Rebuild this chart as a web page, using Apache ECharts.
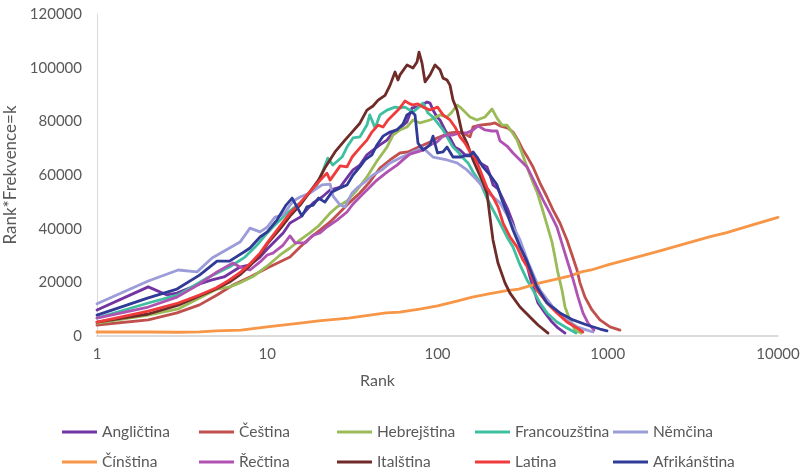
<!DOCTYPE html>
<html>
<head>
<meta charset="utf-8">
<script src="https://cdn.jsdelivr.net/npm/echarts/dist/echarts.min.js"></script>
<style>
  html, body { margin: 0; padding: 0; background: #ffffff; }
  #chart { width: 802px; height: 474px; }
</style>
</head>
<body>
<div id="chart"></div>
<script>
// Rank × frequency (k) against rank, log-scaled rank axis.
// Each list holds [rank, rank*frequency] pairs for one language.

const anglictina = [[1,9700],[2,18300],[2.58,15300],[2.95,16000],[4,19400],[4.74,20900],[5.57,22000],[6.92,25700],[7.92,26500],[9.07,29400],[10,32400],[12.4,38400],[13.6,42100],[15.6,44300],[18.6,49600],[21,51800],[23.4,54400],[26.8,55500],[29.4,58900],[31.9,61900],[35,63700],[38.5,67500],[41.8,69300],[45.9,71200],[50.5,73000],[54.8,76000],[60.2,77500],[66.2,79800],[70.8,85000],[75.8,85300],[81.1,86100],[86.8,87200],[90.4,86800],[94.1,84200],[99.3,81600],[103.4,80500],[110.7,76800],[118.4,73800],[126.7,70400],[135.6,69300],[145,67500],[155.2,67500],[166.1,66000],[177.7,64500],[195.3,63000],[203.3,60000],[211.8,56300],[226.6,54800],[239.3,51800],[259.5,47000],[277.6,42100],[297,35800],[326.6,29400],[349.3,22000],[389.3,12300],[428,8600],[470.6,5200],[510,3000],[561,1100]];

const cestina = [[1,4100],[2,6000],[2.95,8600],[4,11600],[5.07,15300],[6.29,19000],[7.92,22000],[10,25300],[13.6,29400],[15.6,33200],[17.8,36500],[20.4,39500],[23.4,42500],[26.8,46200],[30.6,49900],[35,53300],[40,57400],[45.9,62600],[52.6,65600],[60.2,68200],[67.1,68600],[75.8,70100],[90.4,72300],[99.3,73800],[118.4,75700],[130.2,76000],[141.2,75700],[155.2,74200],[161.7,77900],[177.7,78600],[203.3,79000],[217.7,79400],[232.8,78300],[259.5,77500],[277.6,76000],[297,73000],[317.9,69300],[340.1,66300],[364,63000],[400,57000],[439.8,51800],[476.6,47000],[524,42100],[576,35800],[617,30200],[660,24600],[687,19800],[735,14500],[808,9700],[900,6000],[1031,3400],[1180,2200]];

const hebrejstina = [[1,4800],[2,7800],[3,10100],[4,14200],[5.07,17500],[6,18300],[6.92,19800],[8.36,22400],[10,26100],[11.9,30200],[13.6,32800],[15.6,35800],[17.8,38400],[20,41000],[23.4,45800],[25.7,48100],[29.4,50300],[33.7,54400],[38.5,59300],[44.1,65200],[50.5,70400],[54.8,74900],[60.2,76800],[66.2,77900],[71.8,80500],[78.9,79400],[90.4,80500],[103.4,82400],[113.7,81600],[121.7,83500],[130.2,86100],[135.6,85300],[155.2,81600],[170.6,80500],[190.1,81600],[209,84600],[223.6,81200],[239.3,78600],[256,78600],[273.9,76000],[293,73000],[313.5,68200],[335.5,63000],[359,58100],[384,53700],[411,47700],[439.8,41400],[470.6,35000],[489.8,29400],[510,23500],[538.6,17100],[561,10800],[600,6000],[642,2200],[697,1100]];

const francouzstina = [[1,6700],[2,12300],[3,15300],[4.43,21600],[6,25700],[7.4,29400],[8.71,33900],[10,38400],[10.8,40600],[13.1,45800],[15.6,49600],[19.6,56300],[21,60700],[22.7,66300],[24.3,63700],[27.5,66700],[29.4,70400],[31.9,73800],[35,74200],[38.5,78600],[40,82400],[43,77500],[45.9,82400],[50.5,84200],[56.3,85300],[60.2,85000],[64.4,85300],[71.8,83500],[76.8,85000],[82.2,86800],[88,83100],[94.1,81600],[100,79400],[107.8,76800],[113.7,74200],[123.3,70400],[132,68600],[141.2,66300],[151.1,64500],[161.7,61100],[177.7,57400],[195.3,51400],[211.8,47000],[232.8,42100],[256,36900],[277.6,33200],[305.3,26500],[335.5,20900],[364,17100],[400,12300],[439.8,8600],[503,5200],[576,3000],[651,1100]];

const nemcina = [[1,12000],[2,20500],[3,24600],[3.87,23900],[4.74,29100],[6.92,35000],[7.92,40200],[9.07,38800],[10,40600],[11.1,44300],[12.4,45100],[14.2,50300],[15.6,51800],[17.8,53300],[21,56300],[23.4,56600],[24.3,52200],[26.8,48800],[28.6,48100],[31.5,53300],[33.7,55200],[37.5,57400],[41.8,60000],[47.2,61900],[52.6,64500],[60.2,66300],[71.8,68600],[82.2,70100],[94.1,66700],[113.7,65600],[130.2,64500],[149,61900],[170.6,58100],[195.3,53700],[232.8,49600],[266.6,43200],[305.3,35800],[340,27600],[400,17100],[476.6,10800],[576,6000],[660,3400],[755,2200],[819,1500]];

const cinstina = [[1,1500],[2,1500],[3,1400],[4,1500],[5,1900],[7,2200],[10,3400],[15.6,4800],[20,5600],[30,6700],[40,7800],[50,8600],[60,8900],[80,10100],[100,11200],[130,13000],[160,14500],[200,15700],[250,16800],[300,17500],[400,19800],[500,21200],[600,22400],[700,23900],[800,24600],[1000,26500],[1500,29500],[2000,31600],[3000,34800],[4000,37000],[5000,38500],[7000,41300],[10000,44200]];

const rectina = [[1,6700],[2,10800],[2.95,14500],[4,19400],[5.07,23900],[6.29,27200],[6.92,25700],[7.92,24600],[9.07,27600],[10,30200],[10.8,30900],[12.4,33900],[13.6,37300],[14.6,34700],[16.7,34700],[18.6,37600],[20.4,38400],[22.4,40600],[25.7,43200],[29.4,46200],[31.9,49200],[35,51800],[38.5,54400],[44.1,58100],[50.5,61100],[57.8,63700],[64.4,66300],[68.9,67800],[82.2,69300],[90.4,71200],[99.3,72300],[106.3,74200],[113.7,74900],[123.3,74900],[135.6,75700],[149,75700],[161.7,76800],[173,78300],[190.1,76800],[209,76400],[223.6,76400],[232.8,72700],[256,70800],[277.6,68200],[305.3,65600],[335.5,63000],[359,59300],[384,55500],[416.6,50700],[458,45800],[503,40600],[546,33200],[584,27200],[625,21200],[669,14500],[715,8600],[766,4800],[830,2200]];

const italstina = [[1,5200],[2,8200],[3,11500],[4,14900],[5,17500],[6,20100],[7,23100],[8,26500],[9.07,30200],[10,34300],[12,40200],[13.6,44700],[15.6,48800],[17.8,53700],[20,58100],[21.8,62600],[25,68600],[28.6,73000],[31.5,76000],[35,79300],[38.5,84200],[41.8,85700],[44.8,87900],[49.2,89700],[52.6,93400],[56.3,98400],[58.6,95400],[60.2,97300],[66.2,101000],[71.8,99900],[75.8,102100],[77.9,105800],[81.1,101700],[84.5,94700],[90.4,97300],[96.7,101000],[103.4,99200],[107.8,96100],[113.7,95400],[118.4,93500],[123.3,88000],[130.2,84200],[139.4,75700],[149,71900],[161.7,65600],[182.5,58100],[195.3,53300],[203.3,44400],[211.8,35800],[226.6,27200],[249.1,19800],[266.6,16000],[305.3,10800],[349.3,7100],[389.3,4100],[445.8,1100]];

const latina = [[1,5200],[2,9300],[3,12300],[4,15300],[5,17900],[6,20900],[7,23900],[8,27200],[9.07,30900],[10,34700],[11.4,39500],[13.6,45800],[15.6,49600],[17.1,52500],[20,57400],[22.4,60700],[23.4,58100],[26.8,63400],[29.4,63000],[31.5,66700],[35,70100],[38.5,73000],[41.2,76000],[44.7,78600],[47.9,77900],[51.2,80500],[56.3,83100],[60.2,85000],[64.4,87600],[68.9,86500],[71.8,86100],[76.8,86500],[82.2,85300],[90.4,84200],[100,85300],[107.8,82400],[118.4,80500],[126.7,77900],[135.6,74200],[145,71900],[155.2,68600],[166.1,66300],[177.7,61900],[195.3,55200],[211.8,51800],[226.6,48100],[242.6,42100],[266.6,36900],[293.1,33200],[317.9,28300],[340.1,25300],[384,17100],[439.8,12300],[503,8600],[576,5200],[660,3000],[715,1500]];

const afrikanstina = [[1,7800],[2,14200],[2.95,17500],[4,22700],[5.07,27900],[6,27900],[7.3,31300],[7.92,32800],[9.07,36900],[10,38800],[11.4,43200],[12.9,48800],[14,51400],[16,44700],[17.1,48100],[18.6,48800],[20,51400],[21.8,49900],[24,53700],[26.8,55200],[29.4,56300],[31.9,60000],[35,63000],[37.5,65600],[41.2,67500],[44.1,71200],[47.9,74500],[52.6,76000],[57.8,76800],[62.7,79000],[66.2,82400],[70.8,83500],[73.8,82400],[76.8,71900],[82.2,69300],[90.4,71200],[94.1,74500],[100,68200],[107.8,68600],[113.7,70400],[123.3,66700],[135.6,66700],[145,67100],[155.2,67100],[161.7,68600],[170.6,66700],[185,63000],[203.3,60000],[223.6,56300],[239.3,50700],[256,45800],[277.6,39500],[305.3,33200],[335.5,27900],[384,18300],[439.8,12300],[524,8600],[625,6000],[755,4100],[900,2600],[990,1900]];

const languages = ['Angličtina', 'Čeština', 'Hebrejština', 'Francouzština', 'Němčina',
                   'Čínština', 'Řečtina', 'Italština', 'Latina', 'Afrikánština'];
const languageData = [anglictina, cestina, hebrejstina, francouzstina, nemcina,
                      cinstina, rectina, italstina, latina, afrikanstina];
const lineColors = ['#7134a2', '#c0504d', '#9bbb59', '#3ebfa0', '#9c9cd9',
                    '#f79646', '#b052b2', '#6e2b28', '#f03a3b', '#2f3b97'];

const yTicks = { min: 0, max: 120000, step: 20000 };
const xRange = { min: 1, max: 10000 };

const FONT = 'Lato, "Open Sans", sans-serif';
const TEXT = '#595959';

// Legend laid out as two rows of five fixed columns.
const legendCols = [62, 199, 337, 475, 613];
const legendRows = [424, 454];
const legends = languages.map((name, i) => ({
  data: [name],
  left: legendCols[i % 5],
  top: legendRows[Math.floor(i / 5)],
  icon: 'rect',
  itemWidth: 35,
  itemHeight: 3,
  padding: 0,
  selectedMode: false,
  textStyle: { fontFamily: FONT, fontSize: 15.5, color: TEXT }
}));

const chart = echarts.init(document.getElementById('chart'), null, { renderer: 'canvas' });
chart.setOption({
  animation: false,
  backgroundColor: '#ffffff',
  grid: { left: 97, right: 24, top: 14, bottom: 138, containLabel: false, outerBoundsMode: 'none' },
  legend: legends,
  xAxis: {
    type: 'log',
    logBase: 10,
    min: xRange.min,
    max: xRange.max,
    name: 'Rank',
    nameLocation: 'middle',
    nameGap: 37,
    nameTextStyle: { fontFamily: FONT, fontSize: 16, color: TEXT, padding: [0, 120, 0, 0] },
    axisLine: { lineStyle: { color: '#d0d0d0', width: 1.5 } },
    axisTick: { show: false },
    splitLine: { show: false },
    axisLabel: {
      fontFamily: FONT, fontSize: 15, color: TEXT, margin: 11,
      formatter: v => String(Math.round(v))
    }
  },
  yAxis: {
    type: 'value',
    min: yTicks.min,
    max: yTicks.max,
    interval: yTicks.step,
    name: 'Rank*Frekvence=k',
    nameLocation: 'middle',
    nameGap: 72,
    nameTextStyle: { fontFamily: FONT, fontSize: 17, color: TEXT },
    axisLine: { show: true, lineStyle: { color: '#d9d9d9', width: 1 } },
    axisTick: { show: false },
    splitLine: { show: false },
    axisLabel: {
      fontFamily: FONT, fontSize: 15, color: TEXT, margin: 15,
      formatter: v => String(v)
    }
  },
  series: languages.map((name, i) => ({
    name: name,
    type: 'line',
    data: languageData[i],
    showSymbol: false,
    symbol: 'none',
    smooth: false,
    z: 2 + i,
    itemStyle: { color: lineColors[i] },
    lineStyle: { color: lineColors[i], width: 2.8, join: 'round', cap: 'round' }
  }))
});
</script>
</body>
</html>
